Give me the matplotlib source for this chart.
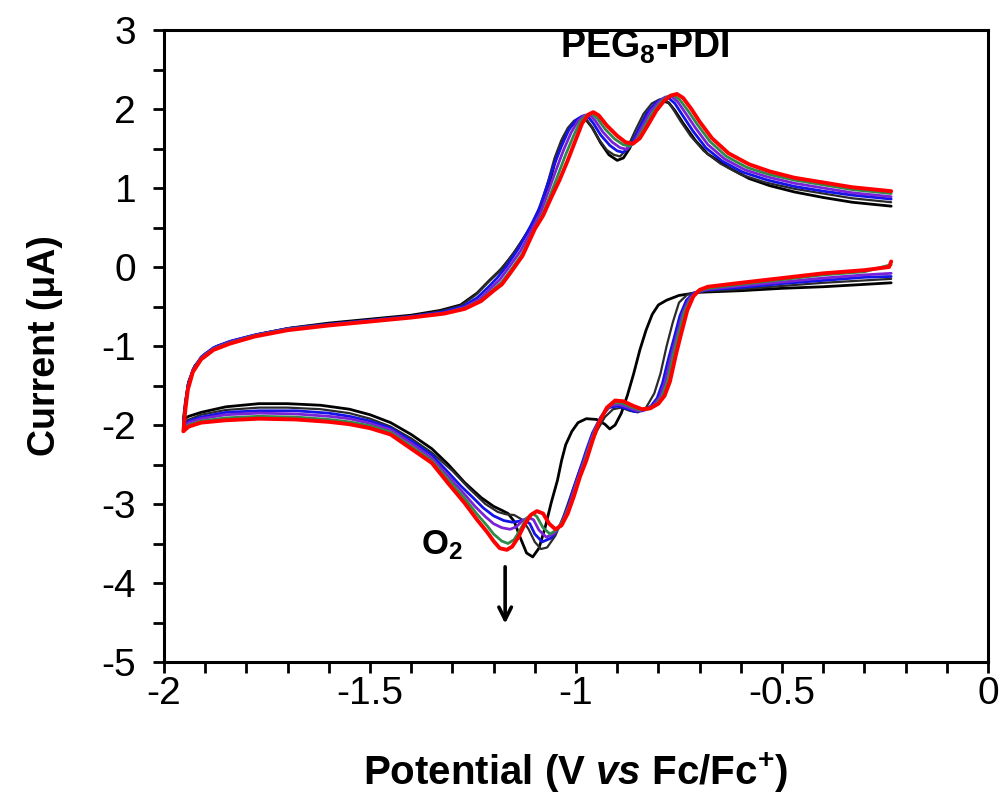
import matplotlib
matplotlib.use("Agg")
import matplotlib.pyplot as plt
from matplotlib.ticker import MultipleLocator

plt.rcParams['font.family'] = ['Liberation Sans', 'DejaVu Sans']
plt.rcParams['mathtext.fontset'] = 'custom'
plt.rcParams['mathtext.rm'] = 'Liberation Sans:bold'
plt.rcParams['mathtext.it'] = 'Liberation Sans:italic:bold'
plt.rcParams['mathtext.bf'] = 'Liberation Sans:bold'

# CV scans (potential V vs Fc/Fc+, current uA), each a full loop:
# forward scan from -0.235 V down to -1.953 V, then back.
scan1 = [(-0.235, -0.20), (-0.30, -0.22), (-0.40, -0.25), (-0.50, -0.27), (-0.60, -0.30), (-0.70, -0.32),
         (-0.75, -0.36), (-0.78, -0.42), (-0.80, -0.48), (-0.815, -0.60), (-0.83, -0.80), (-0.845, -1.05),
         (-0.86, -1.35), (-0.875, -1.62), (-0.89, -1.85), (-0.905, -2.00), (-0.918, -2.05), (-0.93, -1.99),
         (-0.95, -1.93), (-0.975, -1.92), (-0.995, -1.97), (-1.01, -2.08), (-1.025, -2.25), (-1.035, -2.45),
         (-1.045, -2.70), (-1.06, -2.98), (-1.075, -3.30), (-1.09, -3.56), (-1.105, -3.67), (-1.12, -3.62),
         (-1.135, -3.43), (-1.15, -3.22), (-1.165, -3.12), (-1.18, -3.08), (-1.20, -3.03), (-1.23, -2.92),
         (-1.27, -2.73), (-1.31, -2.50), (-1.35, -2.30), (-1.40, -2.12), (-1.45, -1.97), (-1.50, -1.87),
         (-1.55, -1.80), (-1.62, -1.75), (-1.70, -1.73), (-1.77, -1.73), (-1.85, -1.77), (-1.91, -1.84),
         (-1.94, -1.89), (-1.953, -1.93),
         (-1.948, -1.70), (-1.94, -1.45), (-1.925, -1.25), (-1.90, -1.10), (-1.87, -1.00), (-1.83, -0.93),
         (-1.77, -0.85), (-1.69, -0.77), (-1.60, -0.71), (-1.50, -0.66), (-1.40, -0.61), (-1.33, -0.55),
         (-1.28, -0.48), (-1.24, -0.33), (-1.21, -0.17), (-1.18, -0.02), (-1.15, 0.18), (-1.12, 0.42),
         (-1.095, 0.60), (-1.075, 0.86), (-1.06, 1.15), (-1.045, 1.45), (-1.03, 1.65), (-1.015, 1.77),
         (-1.00, 1.83), (-0.985, 1.87), (-0.975, 1.86), (-0.96, 1.76), (-0.94, 1.57), (-0.92, 1.42),
         (-0.90, 1.35), (-0.885, 1.38), (-0.87, 1.50), (-0.85, 1.72), (-0.83, 1.93), (-0.81, 2.05),
         (-0.79, 2.10), (-0.775, 2.08), (-0.76, 1.98), (-0.74, 1.82), (-0.71, 1.60), (-0.68, 1.43),
         (-0.63, 1.26), (-0.58, 1.12), (-0.53, 1.03), (-0.47, 0.95), (-0.40, 0.88), (-0.33, 0.82),
         (-0.235, 0.77)]

scan2 = [(-0.235, -0.15), (-0.40, -0.20), (-0.50, -0.24), (-0.60, -0.28), (-0.70, -0.31), (-0.73, -0.35),
         (-0.75, -0.45), (-0.765, -0.70), (-0.78, -1.00), (-0.795, -1.35), (-0.81, -1.60), (-0.83, -1.78),
         (-0.85, -1.84), (-0.87, -1.82), (-0.89, -1.78), (-0.91, -1.80), (-0.93, -1.90), (-0.95, -2.08),
         (-0.97, -2.30), (-0.99, -2.55), (-1.01, -2.85), (-1.03, -3.15), (-1.05, -3.40), (-1.07, -3.55),
         (-1.085, -3.57), (-1.10, -3.48), (-1.115, -3.32), (-1.13, -3.20), (-1.15, -3.14), (-1.17, -3.13),
         (-1.19, -3.10), (-1.22, -3.00), (-1.26, -2.80), (-1.30, -2.58), (-1.35, -2.35), (-1.40, -2.17),
         (-1.45, -2.02), (-1.50, -1.92), (-1.55, -1.85), (-1.62, -1.80), (-1.70, -1.78), (-1.77, -1.78),
         (-1.85, -1.81), (-1.91, -1.87), (-1.953, -1.96),
         (-1.948, -1.72), (-1.942, -1.48), (-1.928, -1.28), (-1.905, -1.12), (-1.875, -1.01), (-1.835, -0.935),
         (-1.775, -0.855), (-1.70, -0.775), (-1.60, -0.72), (-1.50, -0.67), (-1.40, -0.62), (-1.33, -0.56),
         (-1.28, -0.49), (-1.245, -0.36), (-1.215, -0.20), (-1.19, -0.07), (-1.165, 0.08), (-1.135, 0.30),
         (-1.105, 0.56), (-1.085, 0.80), (-1.068, 1.08), (-1.052, 1.38), (-1.036, 1.60), (-1.02, 1.76),
         (-1.005, 1.85), (-0.99, 1.89), (-0.978, 1.89), (-0.964, 1.79), (-0.945, 1.62), (-0.925, 1.48),
         (-0.908, 1.42), (-0.893, 1.40), (-0.876, 1.50), (-0.856, 1.73), (-0.836, 1.94), (-0.816, 2.07),
         (-0.798, 2.12), (-0.783, 2.12), (-0.768, 2.03), (-0.748, 1.86), (-0.722, 1.66), (-0.69, 1.47),
         (-0.65, 1.31), (-0.60, 1.17), (-0.54, 1.07), (-0.47, 0.99), (-0.40, 0.93), (-0.33, 0.87),
         (-0.235, 0.82)]

scan3 = [(-0.235, -0.12), (-0.30, -0.13), (-0.40, -0.17), (-0.50, -0.21), (-0.60, -0.26), (-0.68, -0.29),
         (-0.715, -0.33), (-0.732, -0.42), (-0.748, -0.62), (-0.763, -0.92), (-0.776, -1.17), (-0.79, -1.47),
         (-0.803, -1.66), (-0.818, -1.76), (-0.838, -1.82), (-0.858, -1.83), (-0.878, -1.79), (-0.90, -1.76),
         (-0.92, -1.78), (-0.94, -1.90), (-0.96, -2.10), (-0.975, -2.32), (-0.99, -2.56), (-1.005, -2.79),
         (-1.02, -3.04), (-1.038, -3.27), (-1.06, -3.43), (-1.082, -3.48), (-1.10, -3.38), (-1.112, -3.25),
         (-1.125, -3.20), (-1.14, -3.22), (-1.155, -3.23), (-1.175, -3.21), (-1.20, -3.15), (-1.225, -3.05),
         (-1.25, -2.92), (-1.28, -2.77), (-1.31, -2.60), (-1.35, -2.38), (-1.40, -2.20), (-1.45, -2.04),
         (-1.50, -1.95), (-1.55, -1.89), (-1.60, -1.85), (-1.68, -1.82), (-1.77, -1.82), (-1.85, -1.84),
         (-1.91, -1.90), (-1.94, -1.95), (-1.953, -2.00),
         (-1.948, -1.74), (-1.942, -1.50), (-1.93, -1.30), (-1.91, -1.14), (-1.88, -1.02), (-1.84, -0.94),
         (-1.78, -0.86), (-1.70, -0.78), (-1.60, -0.725), (-1.50, -0.675), (-1.40, -0.625), (-1.325, -0.57),
         (-1.275, -0.50), (-1.24, -0.39), (-1.21, -0.24), (-1.19, -0.13), (-1.17, 0.00), (-1.14, 0.23),
         (-1.11, 0.52), (-1.09, 0.73), (-1.072, 1.00), (-1.054, 1.28), (-1.036, 1.52), (-1.018, 1.73),
         (-1.00, 1.86), (-0.985, 1.91), (-0.972, 1.91), (-0.958, 1.82), (-0.94, 1.67), (-0.918, 1.54),
         (-0.90, 1.47), (-0.885, 1.45), (-0.866, 1.55), (-0.846, 1.76), (-0.826, 1.96), (-0.806, 2.08),
         (-0.79, 2.13), (-0.775, 2.14), (-0.76, 2.07), (-0.74, 1.91), (-0.716, 1.72), (-0.685, 1.51),
         (-0.645, 1.34), (-0.595, 1.20), (-0.535, 1.10), (-0.47, 1.02), (-0.40, 0.96), (-0.33, 0.91),
         (-0.235, 0.86)]

scan4 = [(-0.235, -0.08), (-0.30, -0.10), (-0.40, -0.14), (-0.50, -0.19), (-0.60, -0.24), (-0.68, -0.28),
         (-0.71, -0.32), (-0.726, -0.41), (-0.742, -0.60), (-0.757, -0.90), (-0.77, -1.15), (-0.784, -1.46),
         (-0.797, -1.65), (-0.812, -1.75), (-0.832, -1.81), (-0.852, -1.82), (-0.872, -1.78), (-0.895, -1.74),
         (-0.915, -1.75), (-0.935, -1.86), (-0.955, -2.06), (-0.97, -2.28), (-0.985, -2.52), (-1.00, -2.74),
         (-1.015, -2.99), (-1.033, -3.22), (-1.052, -3.37), (-1.072, -3.42), (-1.09, -3.33), (-1.103, -3.20),
         (-1.115, -3.17), (-1.13, -3.21), (-1.145, -3.29), (-1.16, -3.32), (-1.18, -3.30), (-1.20, -3.25),
         (-1.22, -3.16), (-1.245, -3.03), (-1.27, -2.88), (-1.31, -2.65), (-1.35, -2.42), (-1.40, -2.23),
         (-1.45, -2.06), (-1.50, -1.98), (-1.55, -1.92), (-1.60, -1.89), (-1.68, -1.86), (-1.77, -1.85),
         (-1.85, -1.87), (-1.91, -1.92), (-1.94, -1.97), (-1.953, -2.03),
         (-1.948, -1.76), (-1.942, -1.52), (-1.93, -1.31), (-1.91, -1.15), (-1.88, -1.03), (-1.84, -0.95),
         (-1.78, -0.865), (-1.70, -0.785), (-1.60, -0.73), (-1.50, -0.68), (-1.40, -0.63), (-1.32, -0.58),
         (-1.27, -0.51), (-1.235, -0.41), (-1.205, -0.26), (-1.185, -0.16), (-1.165, -0.02), (-1.135, 0.20),
         (-1.105, 0.50), (-1.085, 0.70), (-1.067, 0.96), (-1.049, 1.22), (-1.031, 1.47), (-1.012, 1.70),
         (-0.995, 1.85), (-0.98, 1.92), (-0.967, 1.93), (-0.953, 1.85), (-0.935, 1.71), (-0.912, 1.58),
         (-0.893, 1.51), (-0.877, 1.49), (-0.859, 1.58), (-0.839, 1.78), (-0.819, 1.97), (-0.799, 2.09),
         (-0.784, 2.15), (-0.768, 2.16), (-0.753, 2.09), (-0.733, 1.94), (-0.71, 1.76), (-0.68, 1.55),
         (-0.64, 1.37), (-0.59, 1.23), (-0.535, 1.14), (-0.47, 1.06), (-0.40, 1.00), (-0.33, 0.94),
         (-0.235, 0.89)]

scan5 = [(-0.235, 0.03), (-0.30, -0.06), (-0.40, -0.10), (-0.50, -0.16), (-0.60, -0.22), (-0.68, -0.27),
         (-0.705, -0.31), (-0.72, -0.39), (-0.737, -0.57), (-0.752, -0.87), (-0.764, -1.12), (-0.778, -1.45),
         (-0.791, -1.64), (-0.806, -1.74), (-0.826, -1.80), (-0.846, -1.81), (-0.866, -1.77), (-0.89, -1.72),
         (-0.91, -1.72), (-0.93, -1.82), (-0.95, -2.02), (-0.965, -2.24), (-0.98, -2.48), (-0.995, -2.70),
         (-1.01, -2.95), (-1.027, -3.17), (-1.045, -3.32), (-1.063, -3.38), (-1.08, -3.30), (-1.095, -3.16),
         (-1.105, -3.12), (-1.12, -3.18), (-1.135, -3.32), (-1.15, -3.45), (-1.165, -3.50), (-1.18, -3.47),
         (-1.20, -3.38), (-1.215, -3.28), (-1.24, -3.13), (-1.27, -2.93), (-1.31, -2.69), (-1.35, -2.45),
         (-1.40, -2.27), (-1.45, -2.09), (-1.50, -2.01), (-1.55, -1.96), (-1.60, -1.93), (-1.68, -1.90),
         (-1.77, -1.89), (-1.85, -1.91), (-1.91, -1.95), (-1.94, -2.00), (-1.953, -2.06),
         (-1.948, -1.78), (-1.942, -1.54), (-1.93, -1.32), (-1.91, -1.16), (-1.88, -1.04), (-1.84, -0.96),
         (-1.78, -0.87), (-1.70, -0.79), (-1.60, -0.735), (-1.50, -0.685), (-1.40, -0.635), (-1.32, -0.585),
         (-1.27, -0.52), (-1.23, -0.42), (-1.20, -0.28), (-1.18, -0.19), (-1.16, -0.05), (-1.13, 0.17),
         (-1.10, 0.49), (-1.08, 0.68), (-1.062, 0.92), (-1.044, 1.16), (-1.026, 1.41), (-1.006, 1.66),
         (-0.99, 1.84), (-0.975, 1.92), (-0.962, 1.94), (-0.948, 1.88), (-0.93, 1.75), (-0.906, 1.62),
         (-0.886, 1.55), (-0.87, 1.53), (-0.852, 1.61), (-0.832, 1.79), (-0.812, 1.97), (-0.792, 2.10),
         (-0.777, 2.16), (-0.762, 2.17), (-0.747, 2.11), (-0.727, 1.97), (-0.705, 1.80), (-0.675, 1.59),
         (-0.635, 1.40), (-0.585, 1.26), (-0.53, 1.17), (-0.47, 1.10), (-0.40, 1.04), (-0.33, 0.98),
         (-0.235, 0.93)]

scan6 = [(-0.235, 0.07), (-0.24, 0.00), (-0.30, -0.04), (-0.40, -0.08), (-0.50, -0.14), (-0.60, -0.20),
         (-0.68, -0.25), (-0.70, -0.29), (-0.715, -0.37), (-0.73, -0.55), (-0.745, -0.85), (-0.757, -1.10),
         (-0.772, -1.45), (-0.785, -1.63), (-0.80, -1.73), (-0.82, -1.79), (-0.84, -1.80), (-0.86, -1.76),
         (-0.885, -1.70), (-0.905, -1.69), (-0.925, -1.78), (-0.945, -1.98), (-0.96, -2.20), (-0.975, -2.45),
         (-0.99, -2.65), (-1.005, -2.90), (-1.02, -3.12), (-1.035, -3.27), (-1.05, -3.32), (-1.065, -3.25),
         (-1.08, -3.12), (-1.095, -3.09), (-1.11, -3.14), (-1.125, -3.26), (-1.14, -3.42), (-1.155, -3.54),
         (-1.168, -3.58), (-1.185, -3.56), (-1.20, -3.47), (-1.215, -3.36), (-1.24, -3.20), (-1.27, -2.99),
         (-1.31, -2.74), (-1.35, -2.48), (-1.40, -2.30), (-1.45, -2.12), (-1.50, -2.04), (-1.55, -1.99),
         (-1.60, -1.96), (-1.68, -1.93), (-1.77, -1.92), (-1.85, -1.94), (-1.91, -1.97), (-1.94, -2.02),
         (-1.953, -2.08),
         (-1.948, -1.80), (-1.942, -1.55), (-1.93, -1.33), (-1.91, -1.17), (-1.88, -1.05), (-1.84, -0.97),
         (-1.78, -0.88), (-1.70, -0.80), (-1.60, -0.74), (-1.50, -0.69), (-1.40, -0.64), (-1.32, -0.59),
         (-1.27, -0.53), (-1.23, -0.43), (-1.20, -0.30), (-1.18, -0.22), (-1.16, -0.08), (-1.13, 0.14),
         (-1.10, 0.48), (-1.08, 0.65), (-1.06, 0.88), (-1.04, 1.10), (-1.02, 1.35), (-1.00, 1.62),
         (-0.985, 1.82), (-0.97, 1.93), (-0.958, 1.96), (-0.945, 1.92), (-0.925, 1.79), (-0.90, 1.66),
         (-0.88, 1.58), (-0.862, 1.56), (-0.845, 1.63), (-0.825, 1.80), (-0.805, 1.98), (-0.785, 2.11),
         (-0.77, 2.17), (-0.755, 2.19), (-0.74, 2.14), (-0.72, 2.00), (-0.70, 1.84), (-0.67, 1.63),
         (-0.63, 1.44), (-0.58, 1.30), (-0.53, 1.21), (-0.47, 1.13), (-0.40, 1.07), (-0.33, 1.01),
         (-0.235, 0.96)]

scans = [scan1, scan2, scan3, scan4, scan5, scan6]
colors = ['#000000', '#2a2a2a', '#1414e6', '#7b22d8', '#2e8b4a', '#ff0000']
widths = [2.0, 1.6, 2.0, 2.0, 2.0, 2.8]

xticks = [-2, -1.5, -1, -0.5, 0]
xtick_labels = ['-2', '-1.5', '-1', '-0.5', '0']
yticks = [-5, -4, -3, -2, -1, 0, 1, 2, 3]

fig = plt.figure(figsize=(10.02, 7.94), dpi=100)
ax = fig.add_axes([164 / 1002, 1 - 662 / 794, (988 - 164) / 1002, (662 - 30) / 794])

for pts, c, lw in zip(scans, colors, widths):
    xs = [p[0] for p in pts]
    ys = [p[1] for p in pts]
    ax.plot(xs, ys, color=c, lw=lw, solid_joinstyle='round', solid_capstyle='round')

ax.set_xlim(-2, 0)
ax.set_ylim(-5, 3)
ax.set_xticks(xticks)
ax.set_xticklabels(xtick_labels)
ax.xaxis.set_minor_locator(MultipleLocator(0.1))
ax.set_yticks(yticks)
ax.set_yticklabels([str(v) for v in yticks])
ax.yaxis.set_minor_locator(MultipleLocator(0.5))
ax.tick_params(which='both', direction='out', length=8, width=2, labelsize=28)
ax.tick_params(axis='y', pad=12)
ax.tick_params(axis='x', pad=2)
for s in ax.spines.values():
    s.set_linewidth(2.2)

ax.set_xlabel(r'Potential (V $\mathit{vs}$ Fc/Fc$^{+}$)', fontsize=29, fontweight='bold', labelpad=28)
ax.set_ylabel('Current (μA)', fontsize=27, fontweight='bold', labelpad=28)

ax.text(-0.833, 2.78, r'PEG$_{8}$-PDI', fontsize=27, fontweight='bold', ha='center', va='center')
ax.text(-1.325, -3.52, r'O$_{2}$', fontsize=25, fontweight='bold', ha='center', va='center')
ax.annotate('', xy=(-1.172, -4.55), xytext=(-1.172, -3.76),
            arrowprops=dict(arrowstyle='->,head_length=0.9,head_width=0.45', color='black', lw=2.6))

fig.savefig('out.png', dpi=100)
